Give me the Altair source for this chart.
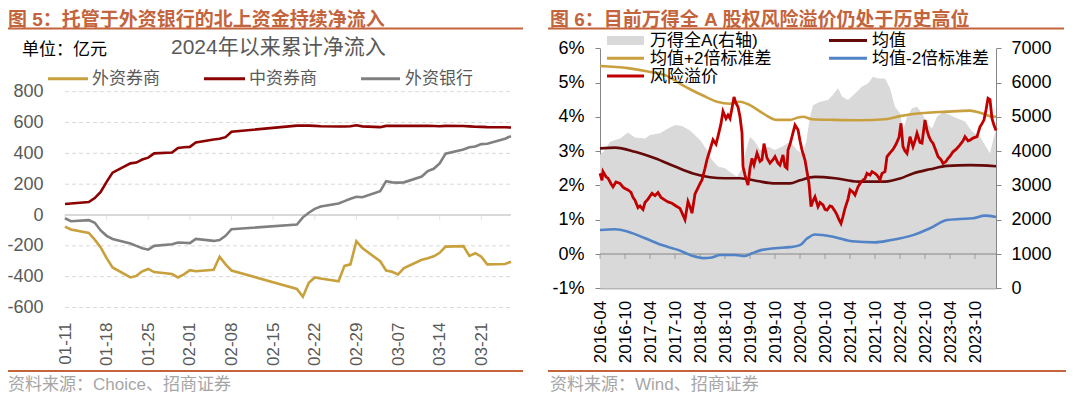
import altair as alt
import pandas as pd

CJK = "Liberation Sans, Noto Sans CJK SC"
NUM = "Liberation Sans"
TITLE_C = "#C4643C"

# ---------------- Figure 5 data ----------------
dates5 = ["2024-01-11", "2024-01-12", "2024-01-15", "2024-01-16", "2024-01-17", "2024-01-18",
          "2024-01-19", "2024-01-22", "2024-01-23", "2024-01-24", "2024-01-25", "2024-01-26",
          "2024-01-29", "2024-01-30", "2024-01-31", "2024-02-01", "2024-02-02", "2024-02-05",
          "2024-02-06", "2024-02-07", "2024-02-08", "2024-02-19", "2024-02-20", "2024-02-21",
          "2024-02-22", "2024-02-23", "2024-02-26", "2024-02-27", "2024-02-28", "2024-02-29",
          "2024-03-01", "2024-03-04", "2024-03-05", "2024-03-06", "2024-03-07", "2024-03-08",
          "2024-03-11", "2024-03-12", "2024-03-13", "2024-03-14", "2024-03-15", "2024-03-18",
          "2024-03-19", "2024-03-20", "2024-03-21", "2024-03-22", "2024-03-25", "2024-03-26"]
foreign_broker5 = [-75, -94, -116, -160, -210, -280, -340, -405, -395, -365, -350, -370,
                   -383, -405, -385, -358, -365, -355, -270, -320, -360, -480, -530, -440,
                   -405, -412, -430, -330, -320, -170, -215, -300, -360, -368, -385, -345,
                   -290, -280, -268, -245, -205, -202, -265, -248, -270, -320, -318, -303]
domestic_broker5 = [71, 75, 84, 110, 150, 215, 275, 335, 340, 360, 372, 400,
                    405, 435, 440, 442, 470, 490, 495, 505, 540, 580, 580, 580,
                    578, 576, 574, 574, 576, 582, 575, 570, 578, 578, 578, 578,
                    578, 578, 577, 576, 578, 577, 575, 573, 572, 570, 569, 568]
foreign_bank5 = [-21, -40, -33, -50, -100, -135, -155, -185, -200, -215, -225, -200,
                 -190, -178, -180, -182, -155, -168, -162, -135, -92, -62, -15, 15,
                 40, 55, 75, 90, 105, 118, 115, 155, 220, 212, 210, 212,
                 250, 285, 300, 335, 398, 425, 440, 445, 460, 462, 495, 512]
names5 = ["外资券商", "中资券商", "外资银行"]
colors5 = ["#C8A03C", "#8B0000", "#808080"]
xticks5 = [(1, 11), (1, 18), (1, 25), (2, 1), (2, 8), (2, 15), (2, 22), (2, 29),
           (3, 7), (3, 14), (3, 21)]
grid5 = [800, 600, 400, 200, -200, -400, -600]
yticks5 = [-600, -400, -200, 0, 200, 400, 600, 800]

# ---------------- Figure 6 data ----------------
t_area6 = [2016.25, 2016.35, 2016.45, 2016.65, 2016.81, 2016.95, 2017.15, 2017.25, 2017.45,
           2017.61, 2017.75, 2017.89, 2018.05, 2018.25, 2018.39, 2018.49, 2018.61, 2018.75,
           2018.89, 2018.99, 2019.09, 2019.17, 2019.25, 2019.35, 2019.45, 2019.61, 2019.75,
           2019.89, 2020.05, 2020.19, 2020.29, 2020.37, 2020.45, 2020.51, 2020.65, 2020.81,
           2020.91, 2021.01, 2021.09, 2021.21, 2021.35, 2021.49, 2021.61, 2021.71, 2021.81,
           2021.95, 2022.05, 2022.15, 2022.25, 2022.31, 2022.39, 2022.49, 2022.59, 2022.69,
           2022.79, 2022.89, 2022.99, 2023.11, 2023.25, 2023.39, 2023.55, 2023.69, 2023.85,
           2023.97, 2024.05, 2024.13, 2024.17]
wind_a6 = [3890, 4030, 4270, 4370, 4540, 4400, 4370, 4470, 4520,
           4660, 4760, 4730, 4600, 4320, 4030, 3740, 3550, 3500,
           3350, 3250, 3500, 4030, 4420, 4270, 4030, 4130, 4030,
           4130, 4270, 4030, 3940, 4230, 5000, 5340, 5440, 5490,
           5640, 5830, 5590, 5490, 5680, 5880, 5970, 6170, 6120,
           6120, 5830, 5290, 5100, 4610, 5000, 5250, 5290, 5100,
           4810, 4660, 5000, 5150, 5050, 4960, 4860, 4570, 4420,
           4130, 3940, 4420, 4610]

t_mean6 = [2016.25, 2016.55, 2016.95, 2017.35, 2017.75, 2018.11, 2018.45, 2018.75, 2019.05,
           2019.39, 2019.71, 2020.05, 2020.25, 2020.55, 2020.95, 2021.41, 2021.95, 2022.25,
           2022.51, 2022.85, 2023.19, 2023.65, 2024.17]
mean6 = [3.08, 3.10, 2.98, 2.79, 2.55, 2.35, 2.24, 2.21, 2.21,
         2.13, 2.06, 2.06, 2.15, 2.25, 2.21, 2.11, 2.11, 2.20,
         2.35, 2.47, 2.57, 2.59, 2.56]

t_upper6 = [2016.25, 2016.81, 2017.21, 2017.61, 2017.89, 2018.11, 2018.31, 2018.59, 2018.85,
            2019.05, 2019.25, 2019.51, 2019.79, 2020.05, 2020.21, 2020.31, 2020.49, 2020.95,
            2021.45, 2021.95, 2022.25, 2022.51, 2023.19, 2023.65, 2023.85, 2024.05, 2024.17]
upper6 = [5.48, 5.42, 5.32, 5.18, 4.93, 4.76, 4.62, 4.44, 4.38,
          4.44, 4.34, 4.10, 3.91, 3.91, 3.98, 4.00, 3.93, 3.91,
          3.90, 3.93, 4.02, 4.08, 4.15, 4.18, 4.12, 4.02, 4.00]

t_lower6 = [2016.25, 2016.55, 2016.81, 2017.15, 2017.49, 2017.81, 2018.09, 2018.31, 2018.49,
            2018.65, 2018.95, 2019.15, 2019.29, 2019.49, 2019.75, 2020.05, 2020.25, 2020.39,
            2020.55, 2020.95, 2021.29, 2021.75, 2022.05, 2022.51, 2022.85, 2023.19, 2023.45,
            2023.71, 2023.95, 2024.17]
lower6 = [0.70, 0.72, 0.65, 0.46, 0.26, 0.12, -0.05, -0.12, -0.10,
          -0.03, -0.03, -0.06, 0.02, 0.12, 0.17, 0.20, 0.26, 0.45,
          0.57, 0.49, 0.37, 0.34, 0.40, 0.55, 0.75, 0.99, 1.02,
          1.04, 1.12, 1.08]

t_erp6 = [2016.25, 2016.29, 2016.31, 2016.37, 2016.41, 2016.47, 2016.51, 2016.57, 2016.65,
          2016.71, 2016.75, 2016.81, 2016.87, 2016.91, 2016.95, 2017.01, 2017.05, 2017.11,
          2017.15, 2017.21, 2017.29, 2017.35, 2017.41, 2017.47, 2017.55, 2017.61, 2017.69,
          2017.77, 2017.85, 2017.89, 2017.95, 2018.01, 2018.05, 2018.09, 2018.15, 2018.19,
          2018.25, 2018.29, 2018.35, 2018.39, 2018.45, 2018.51, 2018.57, 2018.61, 2018.67,
          2018.71, 2018.77, 2018.81, 2018.85, 2018.89, 2018.93, 2018.97, 2019.01, 2019.05,
          2019.09, 2019.11, 2019.15, 2019.21, 2019.25, 2019.29, 2019.33, 2019.39, 2019.45,
          2019.49, 2019.53, 2019.59, 2019.65, 2019.71, 2019.75, 2019.81, 2019.85, 2019.91,
          2019.95, 2019.99, 2020.01, 2020.05, 2020.09, 2020.15, 2020.21, 2020.25, 2020.29,
          2020.35, 2020.39, 2020.43, 2020.47, 2020.51, 2020.55, 2020.61, 2020.65, 2020.71,
          2020.75, 2020.79, 2020.85, 2020.89, 2020.95, 2020.99, 2021.03, 2021.07, 2021.11,
          2021.15, 2021.21, 2021.25, 2021.31, 2021.35, 2021.41, 2021.45, 2021.51, 2021.55,
          2021.59, 2021.65, 2021.69, 2021.75, 2021.79, 2021.85, 2021.89, 2021.95, 2021.99,
          2022.05, 2022.11, 2022.17, 2022.23, 2022.27, 2022.31, 2022.35, 2022.39, 2022.45,
          2022.51, 2022.55, 2022.59, 2022.65, 2022.69, 2022.75, 2022.79, 2022.83, 2022.87,
          2022.91, 2022.97, 2023.01, 2023.07, 2023.11, 2023.17, 2023.21, 2023.25, 2023.31,
          2023.37, 2023.45, 2023.51, 2023.55, 2023.61, 2023.65, 2023.71, 2023.79, 2023.85,
          2023.89, 2023.93, 2023.97, 2024.01, 2024.05, 2024.09, 2024.13, 2024.17]
erp6 = [2.35, 2.15, 2.40, 2.25, 2.21, 2.05, 1.96, 2.10, 2.06,
        1.95, 1.91, 1.87, 1.80, 1.65, 1.57, 1.35, 1.40, 1.30,
        1.50, 1.60, 1.77, 1.70, 1.79, 1.65, 1.57, 1.52, 1.48,
        1.40, 1.33, 1.20, 1.00, 1.53, 1.38, 1.19, 1.75, 1.87,
        2.05, 2.16, 2.50, 2.75, 3.04, 3.33, 3.20, 3.43, 3.80,
        4.16, 3.95, 4.05, 3.95, 4.25, 4.58, 4.40, 4.29, 4.00,
        3.53, 2.55, 2.30, 2.01, 2.50, 2.79, 2.60, 2.94, 2.70,
        2.75, 3.22, 2.80, 2.65, 2.75, 2.84, 2.65, 2.59, 2.89,
        2.55, 2.50, 3.03, 3.20, 3.42, 3.76, 3.62, 3.30, 3.03,
        2.74, 2.40, 2.06, 1.38, 1.55, 1.67, 1.38, 1.50, 1.43,
        1.30, 1.28, 1.40, 1.38, 1.25, 1.14, 1.00, 0.89, 1.10,
        1.33, 1.60, 1.87, 1.80, 1.72, 1.96, 2.05, 2.16, 2.20,
        2.35, 2.30, 2.40, 2.35, 2.30, 2.16, 2.35, 2.40, 2.84,
        2.95, 3.05, 3.20, 3.40, 3.81, 3.13, 3.00, 2.93, 3.42,
        3.13, 3.30, 3.52, 3.25, 3.23, 3.91, 3.60, 3.42, 3.30,
        3.23, 3.00, 2.84, 2.75, 2.64, 2.70, 2.79, 2.85, 2.98,
        3.05, 3.18, 3.30, 3.42, 3.30, 3.32, 3.38, 3.42, 3.71,
        3.80, 3.91, 4.20, 4.54, 4.50, 3.95, 3.75, 3.60]

xticks6 = [2016.25, 2016.75, 2017.25, 2017.75, 2018.25, 2018.75, 2019.25, 2019.75,
           2020.25, 2020.75, 2021.25, 2021.75, 2022.25, 2022.75, 2023.25, 2023.75]
pct_ticks6 = [-1, 0, 1, 2, 3, 4, 5, 6]
idx_ticks6 = [0, 1000, 2000, 3000, 4000, 5000, 6000, 7000]
legend6 = ["万得全A(右轴)", "均值", "均值+2倍标准差", "均值-2倍标准差", "风险溢价"]

W, H = 1061, 385

# ---------------- Figure 5 ----------------
def dt(m, d):
    return alt.DateTime(year=2024, month=m, date=d, utc=True)

x5 = alt.Scale(type="utc", domain=[dt(1, 11), dt(3, 26)], range=[57, 503])
y5 = alt.Scale(domain=[-600, 800], range=[299.5, 83.7], nice=False, zero=False)
ax5 = alt.Axis(orient="bottom", offset=314 - H, values=[dt(m, d) for m, d in xticks5],
               format="%m-%d", labelAngle=270, labelFontSize=17, labelFont=NUM,
               labelColor="#595959", labelPadding=0, domain=False, ticks=False, tickSize=0,
               grid=False, title=None, labelFlush=False, labelOverlap=False)
ay5 = alt.Axis(orient="left", offset=-35, values=yticks5, labelExpr="'' + datum.value",
               labelFontSize=18, labelFont=NUM, labelColor="#595959", labelPadding=0,
               domain=False, ticks=False, tickSize=0, grid=False, title=None)

grid5_l = alt.Chart(pd.DataFrame({"v": grid5})).mark_rule(
    color="#D9D9D9", strokeWidth=1, strokeDash=[4, 3]).encode(
    y=alt.Y("v:Q", scale=y5, axis=ay5), x=alt.value(57), x2=alt.value(503))
zero5_l = alt.Chart(pd.DataFrame({"v": [0]})).mark_rule(
    color="#D9D9D9", strokeWidth=2).encode(
    y=alt.Y("v:Q", scale=y5, axis=ay5), x=alt.value(57), x2=alt.value(503))
ticks5_l = alt.Chart(pd.DataFrame({"d": ["2024-%02d-%02d" % md for md in xticks5]})).mark_tick(
    orient="vertical", size=5, thickness=1, yOffset=2.5, color="#D9D9D9").encode(
    x=alt.X("d:T", scale=x5, axis=ax5), y=alt.YDatum(0, scale=y5, axis=ay5))


def line5(vals, color):
    df = pd.DataFrame({"date": dates5, "v": vals})
    return alt.Chart(df).mark_line(color=color, strokeWidth=2.6).encode(
        x=alt.X("date:T", scale=x5, axis=ax5), y=alt.Y("v:Q", scale=y5, axis=ay5))


left = alt.layer(grid5_l, zero5_l, ticks5_l,
                 line5(foreign_broker5, colors5[0]),
                 line5(domestic_broker5, colors5[1]),
                 line5(foreign_bank5, colors5[2]))

# ---------------- Figure 6 ----------------
x6 = alt.Scale(domain=[2016.25, 2024.17], range=[592, 988], nice=False, zero=False)
y6 = alt.Scale(domain=[-1, 6], range=[280.3, 40.2], nice=False, zero=False)
y6b = alt.Scale(domain=[0, 7000], range=[280.3, 40.2], nice=False, zero=False)
ax6 = alt.Axis(orient="bottom", offset=280.3 - H, values=xticks6,
               labelExpr="floor(datum.value) + (datum.value % 1 < 0.5 ? '-04' : '-10')",
               labelAngle=270, labelFontSize=17, labelFont=NUM, labelColor="#000000",
               labelPadding=12, domain=True, domainColor="#868686", domainWidth=1,
               ticks=False, tickSize=0, grid=False, title=None, labelFlush=False,
               labelOverlap=False)
ay6 = alt.Axis(orient="left", offset=-592, values=pct_ticks6, labelExpr="datum.value + '%'",
               labelFontSize=18, labelFont=NUM, labelColor="#000000", labelPadding=11,
               domain=True, domainColor="#868686", ticks=True, tickColor="#868686",
               tickSize=5, tickWidth=1, grid=False, title=None)
ay6b = alt.Axis(orient="right", offset=988 - W, values=idx_ticks6, labelExpr="'' + datum.value",
                labelFontSize=18, labelFont=NUM, labelColor="#000000", labelPadding=10,
                domain=True, domainColor="#868686", ticks=True, tickColor="#868686",
                tickSize=5, tickWidth=1, grid=False, title=None)

area6 = alt.Chart(pd.DataFrame({"t": t_area6, "v": wind_a6})).mark_area(
    color="#D9D9D9").encode(
    x=alt.X("t:Q", scale=x6, axis=ax6), y=alt.Y("v:Q", scale=y6b, axis=ay6b))

zero6 = alt.Chart(pd.DataFrame({"v": [0]})).mark_rule(color="#868686", strokeWidth=1).encode(
    y=alt.Y("v:Q", scale=y6, axis=ay6), x=alt.value(592), x2=alt.value(988))
ticks6 = alt.Chart(pd.DataFrame({"t": xticks6})).mark_tick(
    orient="vertical", size=5, thickness=1, yOffset=2.5, color="#868686").encode(
    x=alt.X("t:Q", scale=x6, axis=ax6), y=alt.YDatum(0, scale=y6, axis=ay6))


def line6(ts, vals, color, width=2.6, interp="monotone"):
    df = pd.DataFrame({"t": ts, "v": vals})
    return alt.Chart(df).mark_line(color=color, strokeWidth=width, interpolate=interp).encode(
        x=alt.X("t:Q", scale=x6, axis=ax6), y=alt.Y("v:Q", scale=y6, axis=ay6))


C_UP, C_MEAN, C_LOW, C_ERP = "#C9A040", "#650A0A", "#5183C6", "#C00000"
lines6 = alt.layer(zero6, ticks6,
                   line6(t_upper6, upper6, C_UP),
                   line6(t_mean6, mean6, C_MEAN),
                   line6(t_lower6, lower6, C_LOW),
                   line6(t_erp6, erp6, C_ERP, 2.8, "linear"))
right = alt.layer(area6, lines6).resolve_scale(y="independent")

# ---------------- Decorations (titles, legends, sources) ----------------
dummy = pd.DataFrame({"k": [0]})


def text(s, x, y, size, color, weight="normal", baseline="middle"):
    return alt.Chart(dummy).mark_text(
        text=s, align="left", baseline=baseline, fontSize=size, color=color,
        fontWeight=weight, font=CJK).encode(x=alt.value(x), y=alt.value(y))


def hline(x1, x2, y, color, width):
    return alt.Chart(dummy).mark_rule(color=color, strokeWidth=width).encode(
        x=alt.value(x1), x2=alt.value(x2), y=alt.value(y))


deco = [
    text("图 5：托管于外资银行的北上资金持续净流入", 0, 18.3, 19, TITLE_C, "bold", "alphabetic"),
    text("图 6：目前万得全 A 股权风险溢价仍处于历史高位", 542, 18.3, 19, TITLE_C, "bold", "alphabetic"),
    hline(0, 515, 20.6, TITLE_C, 2),
    hline(540, 1056, 20.6, TITLE_C, 2),
    hline(0, 515, 363, TITLE_C, 2),
    hline(540, 1058, 363, TITLE_C, 2),
    text("资料来源：Choice、招商证券", 0, 376.5, 17, "#A6A6A6"),
    text("资料来源：Wind、招商证券", 542, 377, 17, "#A6A6A6"),
    text("单位：亿元", 14, 41.6, 17, "#000000"),
    text("2024年以来累计净流入", 163, 40, 21, "#595959"),
    # left legend
    hline(40, 80, 70.7, colors5[0], 3), text(names5[0], 84, 70.7, 17, "#595959"),
    hline(196, 237, 70.7, colors5[1], 3), text(names5[1], 241, 70.7, 17, "#595959"),
    hline(353, 392, 70.7, colors5[2], 3), text(names5[2], 397, 70.7, 17, "#595959"),
    # right legend
    alt.Chart(dummy).mark_rect(color="#D9D9D9").encode(
        x=alt.value(599), x2=alt.value(636), y=alt.value(28), y2=alt.value(37)),
    text(legend6[0], 642, 32.5, 17, "#000000"),
    hline(821, 859, 32.4, C_MEAN, 3), text(legend6[1], 864, 32.5, 17, "#000000"),
    hline(599, 636, 50.2, C_UP, 3), text(legend6[2], 642, 50.5, 17, "#000000"),
    hline(821, 859, 50.2, C_LOW, 3), text(legend6[3], 864, 50.5, 17, "#000000"),
    hline(599, 636, 68, C_ERP, 3), text(legend6[4], 642, 68.5, 17, "#000000"),
]

chart = alt.layer(left, right, *deco).resolve_scale(
    x="independent", y="independent").properties(
    width=W, height=H, padding=0, autosize=alt.AutoSizeParams(type="none")
).configure_view(stroke=None)

chart.save("out.html", embed_options={"renderer": "svg", "actions": False})
